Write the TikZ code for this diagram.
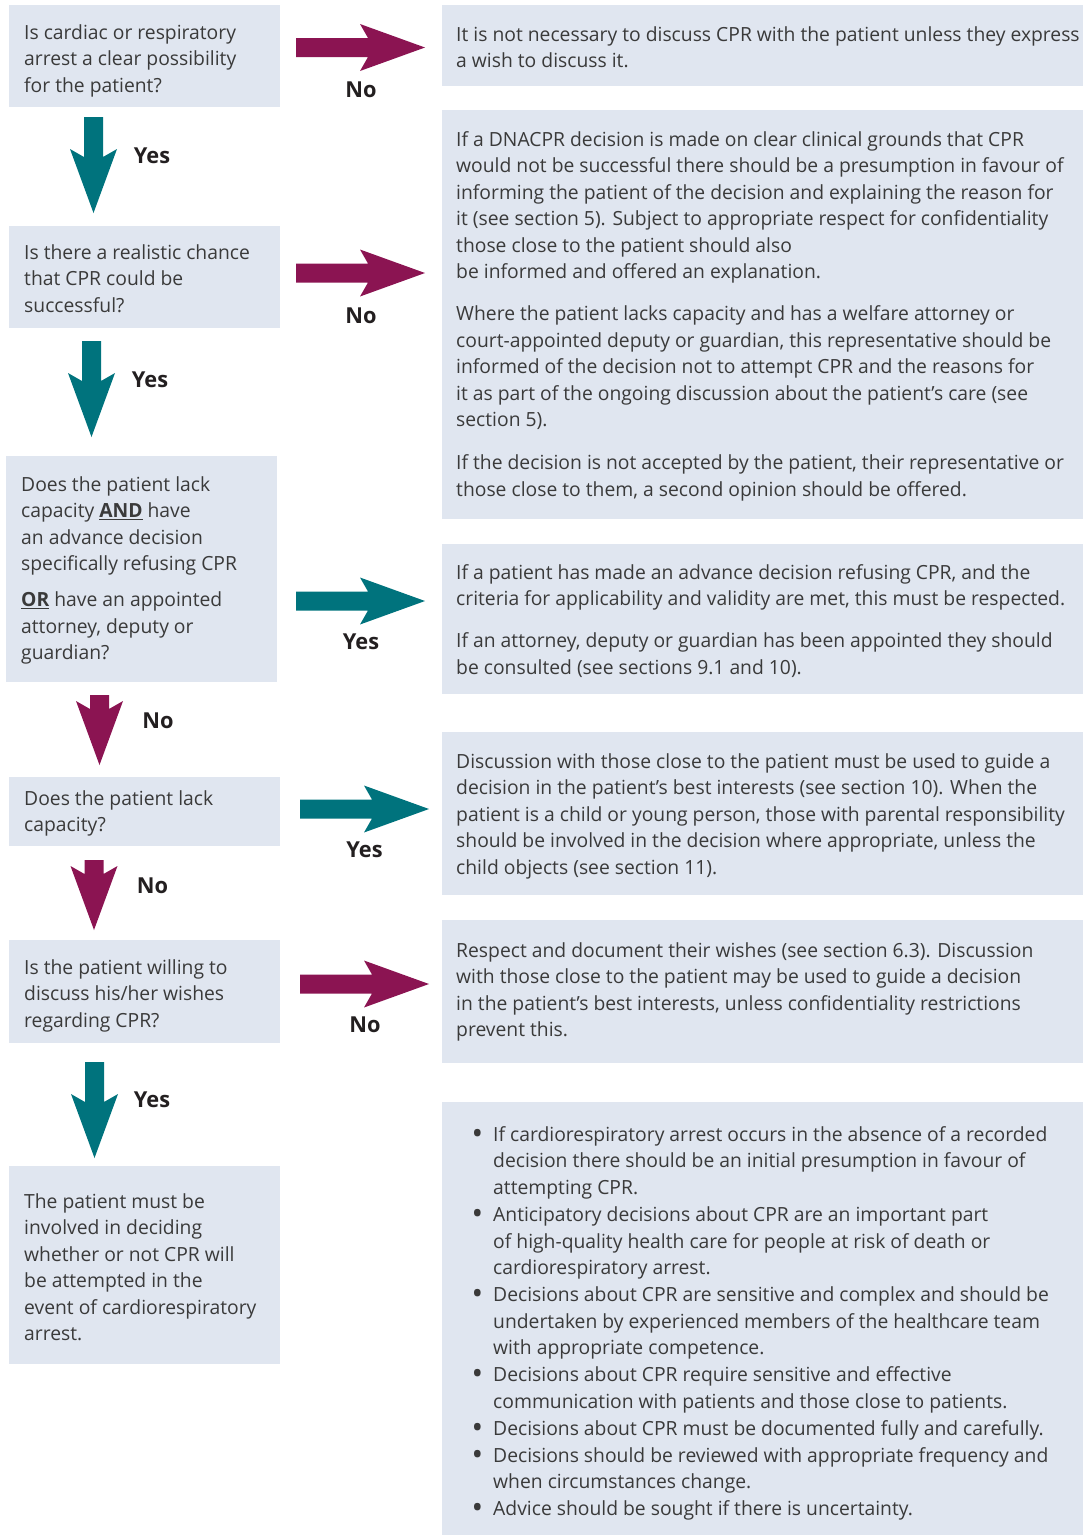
\documentclass[tikz,border=0pt]{standalone}
\usepackage{fontspec}
\usepackage{graphicx}
\setmainfont{Open Sans}[FakeStretch=0.99]
\definecolor{boxbg}{HTML}{E0E6F0}
\definecolor{tealA}{HTML}{00737D}
\definecolor{maroonA}{HTML}{8B1452}
\definecolor{txtc}{HTML}{3A3A3A}
\definecolor{lblc}{HTML}{231F20}
% horizontal fat arrow: colour, start x, centre y, tip x
\newcommand\harr[4]{\fill[#1] (#2,#3-9.5) -- (#4-57,#3-9.5) -- (#4-65,#3-23.5) -- (#4,#3) -- (#4-65,#3+23.5) -- (#4-57,#3+9.5) -- (#2,#3+9.5) -- cycle;}
% vertical fat arrow: colour, centre x, start y, tip y
\newcommand\varr[4]{\fill[#1] (#2-9.5,#3) -- (#2+9.5,#3) -- (#2+9.5,#4-56) -- (#2+23.5,#4-64) -- (#2,#4) -- (#2-23.5,#4-64) -- (#2-9.5,#4-56) -- cycle;}
\newcommand\T{\rule{0pt}{18pt}}
\newcommand\bul{\llap{\raisebox{-3pt}{\scalebox{1.6}{•}}\hspace{10pt}}}
\begin{document}
\begin{tikzpicture}[x=1pt,y=-1pt,
  bx/.style={fill=boxbg, inner sep=0pt, anchor=north west},
  txt/.style={anchor=north west, inner sep=0pt, align=left, text=txtc,
    font=\fontsize{19.5}{26.5}\selectfont},
  lbl/.style={anchor=base, inner sep=0pt, text=lblc,
    font=\fontsize{22}{24}\selectfont\bfseries}]
\useasboundingbox (0,0) rectangle (1083,1535);
% left boxes
\node[bx, minimum width=271pt, minimum height=102pt] (L1) at (9,5) {};
\node[bx, minimum width=271pt, minimum height=102pt] (L2) at (9,226) {};
\node[bx, minimum width=271pt, minimum height=226pt] (L3) at (6,456) {};
\node[bx, minimum width=271pt, minimum height=69pt] (L4) at (9,777) {};
\node[bx, minimum width=271pt, minimum height=103pt] (L5) at (9,940) {};
\node[bx, minimum width=271pt, minimum height=198pt] (L6) at (9,1166) {};
% right boxes
\node[bx, minimum width=641pt, minimum height=81pt] (R1) at (442,5) {};
\node[bx, minimum width=641pt, minimum height=409pt] (R2) at (442,110) {};
\node[bx, minimum width=641pt, minimum height=150pt] (R3) at (442,544) {};
\node[bx, minimum width=641pt, minimum height=163pt] (R4) at (442,732) {};
\node[bx, minimum width=641pt, minimum height=143pt] (R5) at (442,920) {};
\node[bx, minimum width=641pt, minimum height=433pt] (R6) at (442,1102) {};
% left texts
\node[txt] (L1t) at (24,39-18) {\T Is cardiac or respiratory\\arrest a clear possibility\\for the patient?};
\node[txt] (L2t) at (24,259-18) {\T Is there a realistic chance\\that CPR could be\\successful?};
\node[txt] (L3t) at (21,491-18) {\T Does the patient lack\\capacity \underline{\textbf{AND}} have\\an advance decision\\specifically refusing CPR\\[9.5pt]\underline{\textbf{OR}} have an appointed\\attorney, deputy or\\guardian?};
\node[txt] (L4t) at (24,805-18) {\T Does the patient lack\\capacity?};
\node[txt] (L5t) at (24,974-18) {\T Is the patient willing to\\discuss his/her wishes\\regarding CPR?};
\node[txt] (L6t) at (24,1208-18) {\T The patient must be\\involved in deciding\\whether or not CPR will\\be attempted in the\\event of cardiorespiratory\\arrest.};
% right texts
\node[txt] (R1t) at (456,41-18) {\T It is not necessary to discuss CPR with the patient unless they express\\a wish to discuss it.};
\node[txt] (R2t) at (456,146-18) {\T If a DNACPR decision is made on clear clinical grounds that CPR\\would not be successful there should be a presumption in favour of\\informing the patient of the decision and explaining the reason for\\it (see section 5). Subject to appropriate respect for confidentiality\\those close to the patient should also\\be informed and offered an explanation.\\[15.5pt]Where the patient lacks capacity and has a welfare attorney or\\court-appointed deputy or guardian, this representative should be\\informed of the decision not to attempt CPR and the reasons for\\it as part of the ongoing discussion about the patient’s care (see\\section 5).\\[16.5pt]If the decision is not accepted by the patient, their representative or\\those close to them, a second opinion should be offered.};
\node[txt] (R3t) at (456,579-18) {\T If a patient has made an advance decision refusing CPR, and the\\criteria for applicability and validity are met, this must be respected.\\[15.5pt]If an attorney, deputy or guardian has been appointed they should\\be consulted (see sections 9.1 and 10).};
\node[txt] (R4t) at (456,768-18) {\T Discussion with those close to the patient must be used to guide a\\decision in the patient’s best interests (see section 10). When the\\patient is a child or young person, those with parental responsibility\\should be involved in the decision where appropriate, unless the\\child objects (see section 11).};
\node[txt] (R5t) at (456,957-18) {\T Respect and document their wishes (see section 6.3). Discussion\\with those close to the patient may be used to guide a decision\\in the patient’s best interests, unless confidentiality restrictions\\prevent this.};
\node[txt] (R6t) at (493,1141-18) {\T\bul If cardiorespiratory arrest occurs in the absence of a recorded\\decision there should be an initial presumption in favour of\\attempting CPR.\\[1pt]\bul Anticipatory decisions about CPR are an important part\\of high-quality health care for people at risk of death or\\cardiorespiratory arrest.\\[0.5pt]\bul Decisions about CPR are sensitive and complex and should be\\undertaken by experienced members of the healthcare team\\with appropriate competence.\\[0.5pt]\bul Decisions about CPR require sensitive and effective\\communication with patients and those close to patients.\\[0.5pt]\bul Decisions about CPR must be documented fully and carefully.\\[0.5pt]\bul Decisions should be reviewed with appropriate frequency and\\when circumstances change.\\[0.5pt]\bul Advice should be sought if there is uncertainty.};
% arrows
\harr{maroonA}{296}{47.5}{425}
\harr{maroonA}{296}{273}{425}
\harr{tealA}{296}{601}{425}
\harr{tealA}{300}{809}{429}
\harr{maroonA}{300}{984}{429}
\varr{tealA}{93.5}{117}{213}
\varr{tealA}{91.5}{341}{437}
\varr{maroonA}{99.5}{695}{765}
\varr{maroonA}{94}{860}{930}
\varr{tealA}{94.5}{1062}{1158}
% labels
\node[lbl] (n1) at (361,97) {No};
\node[lbl] (y1) at (152,163) {Yes};
\node[lbl] (n2) at (361,323) {No};
\node[lbl] (y2) at (150,387) {Yes};
\node[lbl] (y3) at (361,649) {Yes};
\node[lbl] (n3) at (158,728) {No};
\node[lbl] (y4) at (364.5,857) {Yes};
\node[lbl] (n4) at (152.5,893) {No};
\node[lbl] (n5) at (365,1032) {No};
\node[lbl] (y5) at (152,1107) {Yes};
\end{tikzpicture}
\end{document}
